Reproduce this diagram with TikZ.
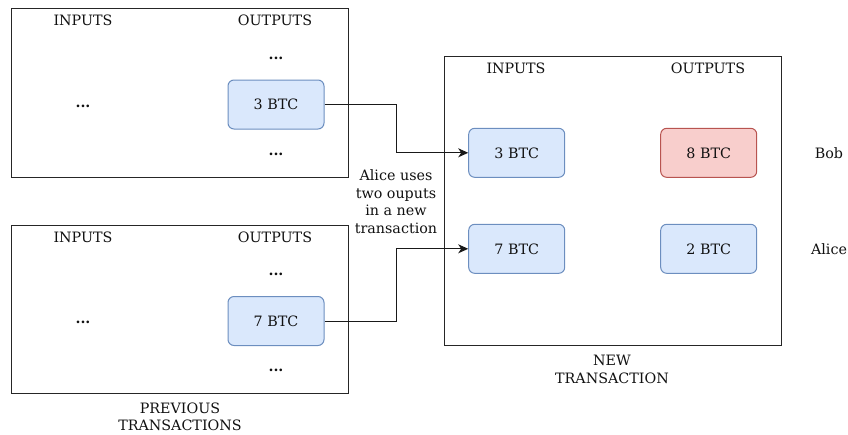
\documentclass[tikz,border=0pt]{standalone}
\usepackage{fontspec}
\setmainfont{DejaVu Serif}
\usetikzlibrary{arrows.meta}
\definecolor{bfill}{HTML}{DAE8FC}
\definecolor{bdraw}{HTML}{6C8EBF}
\definecolor{rfill}{HTML}{F8CECC}
\definecolor{rdraw}{HTML}{B85450}
\definecolor{txt}{HTML}{111111}
\begin{document}
\begin{tikzpicture}[x=1pt,y=-1pt,
  every node/.style={text=txt, font=\fontsize{14.3}{17.5}\selectfont, inner sep=0pt},
  frame/.style={draw=black!85, line width=1pt},
  btc/.style={draw=bdraw, fill=bfill, line width=1pt, rounded corners=6pt, minimum width=96pt, minimum height=49pt},
  btcred/.style={btc, draw=rdraw, fill=rfill},
  lbl/.style={align=center},
  dots/.style={font=\fontsize{14.3}{17.5}\selectfont\bfseries},
  conn/.style={draw=black!90, line width=1pt, -{Stealth[length=10pt,width=9pt,inset=3pt]}}]
\useasboundingbox (0,0) rectangle (848,434);
% frames
\node[frame, minimum width=337pt, minimum height=169pt] (f1) at (179.5,92.5) {};
\node[frame, minimum width=337pt, minimum height=168pt] (f2) at (179.5,309) {};
\node[frame, minimum width=337pt, minimum height=289pt] (f3) at (612.5,201) {};
% previous tx 1
\node (i1) at (83,20) {INPUTS};
\node (o1) at (275,20) {OUTPUTS};
\node[dots] (d1a) at (276,58) {...};
\node[dots] (d1b) at (83,106) {...};
\node[dots] (d1c) at (276,154) {...};
\node[btc] (p3) at (276,104.5) {3 BTC};
% previous tx 2
\node (i2) at (83,237) {INPUTS};
\node (o2) at (275,237) {OUTPUTS};
\node[dots] (d2a) at (276,274) {...};
\node[dots] (d2b) at (83,322) {...};
\node[dots] (d2c) at (276,370) {...};
\node[btc] (p7) at (276,321) {7 BTC};
\node[lbl] (prev) at (180,417) {PREVIOUS\\TRANSACTIONS};
% new tx
\node (i3) at (516,68) {INPUTS};
\node (o3) at (708,68) {OUTPUTS};
\node[btc] (n3) at (516.7,152.8) {3 BTC};
\node[btc] (n7) at (516.7,248.8) {7 BTC};
\node[btcred] (n8) at (708.7,152.8) {8 BTC};
\node[btc] (n2) at (708.7,248.8) {2 BTC};
\node[lbl] (newtx) at (612,369.5) {NEW\\TRANSACTION};
\node (bob) at (829,153) {Bob};
\node (alice) at (829,249) {Alice};
\node[lbl] (note) at (396,201.5) {Alice uses\\two ouputs\\in a new\\transaction};
% connectors
\coordinate (k1) at (396,104.5);
\coordinate (k2) at (396,321);
\draw[conn] (p3.east) -- (k1) |- (n3.west);
\draw[conn] (p7.east) -- (k2) |- (n7.west);
\end{tikzpicture}
\end{document}
